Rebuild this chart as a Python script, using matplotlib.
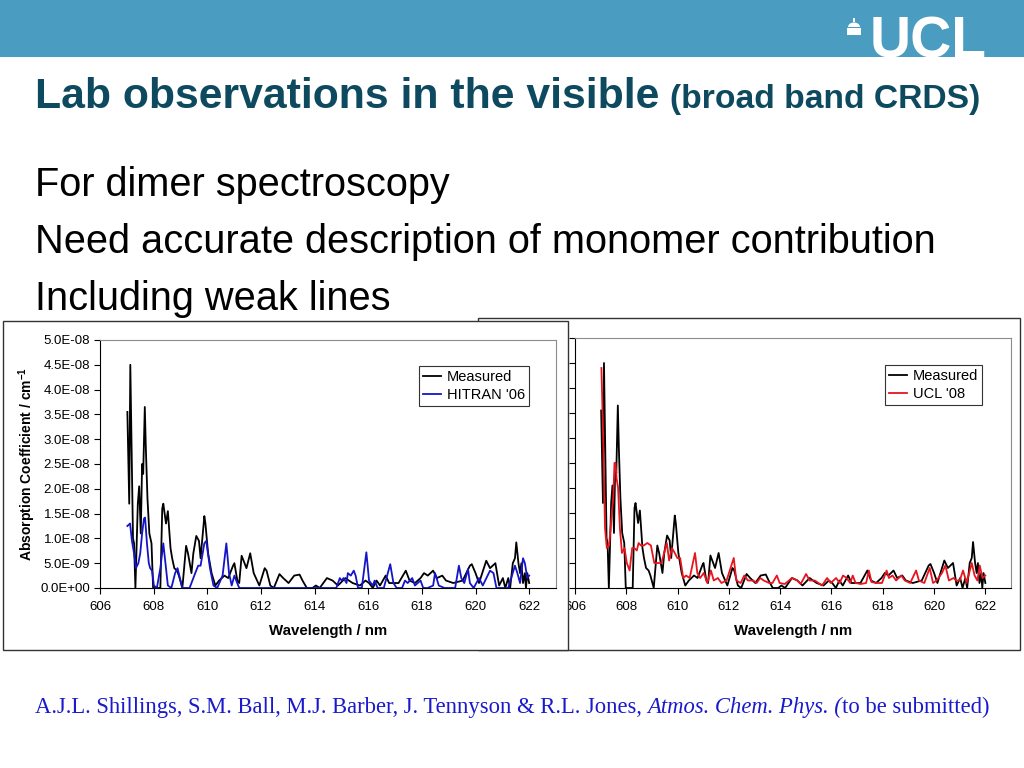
"""Slide: lab observations in the visible (broad band CRDS), two spectra panels."""

import matplotlib
matplotlib.use("Agg")
import matplotlib.pyplot as plt
from matplotlib.patches import Rectangle, Wedge
from matplotlib.ticker import FixedLocator, FuncFormatter

# ---------------------------------------------------------------------------
# Data (absorption coefficient in units of 1e-9 cm^-1)
# ---------------------------------------------------------------------------

measured_nm = [
    607.02, 607.09, 607.13, 607.23, 607.27, 607.32, 607.41, 607.46, 607.52, 607.57,
    607.61, 607.67, 607.71, 607.77, 607.84, 607.92, 607.98, 608.25, 608.32, 608.36,
    608.46, 608.53, 608.63, 608.69, 608.77, 608.87, 608.94, 609.07, 609.21, 609.28,
    609.41, 609.48, 609.59, 609.69, 609.75, 609.89, 609.93, 610.03, 610.16, 610.30,
    610.44, 610.64, 610.78, 610.96, 611.01, 611.12, 611.19, 611.28, 611.46, 611.60,
    611.73, 611.94, 612.14, 612.21, 612.35, 612.48, 612.69, 612.83, 613.03, 613.24,
    613.44, 613.55, 613.71, 613.92, 614.05, 614.19, 614.46, 614.67, 614.87, 615.15,
    615.28, 615.42, 615.69, 615.90, 616.03, 616.17, 616.31, 616.44, 616.65, 616.78,
    617.13, 617.40, 617.54, 617.74, 617.95, 618.08, 618.22, 618.42, 618.56, 618.76,
    618.90, 619.17, 619.52, 619.79, 619.86, 620.00, 620.13, 620.40, 620.54, 620.74,
    620.88, 621.02, 621.11, 621.22, 621.29, 621.39, 621.47, 621.52, 621.60, 621.66,
    621.71, 621.77, 621.84, 621.88, 621.93, 622.00,
]
measured_val = [
    35.5, 17.0, 45.0, 10.0, 9.0, 0.0, 17.0, 20.5, 11.0, 25.0,
    23.0, 36.5, 28.0, 18.0, 11.0, 9.0, 0.0, 0.0, 16.0, 17.0,
    13.0, 15.5, 8.0, 6.0, 4.0, 3.5, 2.5, 0.0, 8.5, 7.0,
    3.0, 7.0, 10.5, 9.5, 6.0, 14.5, 13.0, 7.0, 3.0, 0.5,
    1.5, 2.5, 2.0, 4.5, 5.0, 1.5, 1.0, 6.5, 4.0, 7.0,
    3.0, 0.5, 4.0, 3.5, 0.5, 0.0, 2.8, 2.0, 1.0, 2.5,
    2.7, 1.5, 0.0, 0.0, 0.5, 0.0, 2.0, 1.5, 0.5, 2.0,
    1.5, 1.0, 0.5, 1.5, 1.0, 0.0, 1.5, 0.5, 2.5, 1.0,
    1.0, 3.5, 1.5, 1.0, 2.0, 3.0, 2.5, 3.5, 2.0, 2.5,
    1.5, 1.0, 1.5, 4.5, 4.8, 3.0, 1.0, 5.5, 4.0, 5.0,
    0.5, 2.0, 0.0, 2.0, 0.0, 5.0, 6.0, 9.2, 5.0, 3.0,
    5.0, 1.0, 3.0, 0.0, 3.0, 1.0,
]

hitran_nm = [
    607.02, 607.12, 607.19, 607.27, 607.34, 607.43, 607.50, 607.57, 607.64, 607.68,
    607.75, 607.82, 607.87, 607.94, 608.01, 608.12, 608.25, 608.36, 608.46, 608.53,
    608.66, 608.80, 608.89, 608.98, 609.07, 609.34, 609.55, 609.66, 609.75, 609.89,
    609.96, 610.10, 610.23, 610.37, 610.57, 610.71, 610.81, 610.91, 611.01, 611.08,
    611.19, 614.81, 614.94, 615.01, 615.08, 615.19, 615.24, 615.35, 615.46, 615.53,
    615.62, 615.76, 615.93, 616.03, 616.17, 616.24, 616.35, 616.58, 616.82, 616.94,
    617.06, 617.26, 617.37, 617.47, 617.64, 617.74, 617.95, 618.05, 618.22, 618.42,
    618.49, 618.63, 618.84, 619.24, 619.38, 619.47, 619.58, 619.72, 619.79, 619.93,
    620.13, 620.27, 620.54, 620.67, 620.78, 621.22, 621.47, 621.56, 621.66, 621.77,
    621.84, 621.93, 622.00,
]
hitran_val = [
    12.5, 13.0, 9.5, 7.0, 4.0, 5.0, 7.0, 11.0, 14.0, 14.2,
    9.0, 5.0, 4.0, 3.5, 0.5, 0.0, 4.0, 9.0, 4.0, 0.5,
    0.0, 3.0, 4.0, 2.0, 0.0, 0.0, 3.0, 4.5, 4.5, 9.0,
    9.5, 4.0, 0.5, 0.0, 2.5, 9.0, 3.0, 0.5, 2.5, 1.5,
    0.0, 0.0, 2.0, 1.5, 2.0, 1.0, 3.0, 2.5, 3.5, 2.5,
    0.0, 0.0, 7.2, 1.5, 0.5, 1.5, 0.0, 0.0, 4.8, 1.0,
    0.0, 0.0, 1.5, 1.0, 2.0, 0.5, 1.5, 0.0, 0.0, 0.5,
    3.0, 0.5, 0.0, 0.0, 4.5, 2.0, 1.0, 3.8, 1.0, 0.0,
    2.0, 0.5, 3.5, 3.0, 0.0, 0.0, 4.5, 3.0, 1.0, 6.0,
    5.0, 2.0, 2.5,
]

ucl_nm = [
    607.03, 607.10, 607.17, 607.24, 607.33, 607.42, 607.49, 607.54, 607.58, 607.62,
    607.68, 607.75, 607.83, 607.93, 608.02, 608.13, 608.23, 608.31, 608.41, 608.48,
    608.57, 608.68, 608.82, 608.96, 609.09, 609.20, 609.37, 609.58, 609.67, 609.78,
    609.89, 609.99, 610.10, 610.22, 610.33, 610.47, 610.68, 610.77, 610.88, 611.02,
    611.16, 611.30, 611.41, 611.57, 611.71, 611.91, 612.19, 612.29, 612.46, 612.60,
    612.74, 612.95, 613.08, 613.22, 613.36, 613.57, 613.70, 613.87, 613.98, 614.18,
    614.46, 614.67, 614.80, 615.01, 615.15, 615.35, 615.49, 615.63, 615.83, 615.97,
    616.18, 616.32, 616.45, 616.59, 616.73, 616.83, 616.94, 617.14, 617.35, 617.46,
    617.56, 617.76, 617.97, 618.15, 618.24, 618.38, 618.52, 618.72, 618.86, 619.07,
    619.30, 619.41, 619.62, 619.83, 619.96, 620.10, 620.31, 620.44, 620.58, 620.76,
    620.86, 621.00, 621.13, 621.27, 621.47, 621.58, 621.69, 621.78, 621.89, 622.00,
]
ucl_val = [
    44.0, 30.0, 12.0, 8.0, 8.5, 14.0, 18.0, 25.0, 25.0, 22.0,
    20.0, 12.0, 7.0, 8.0, 5.0, 3.5, 8.0, 8.0, 7.5, 9.0,
    8.5, 8.5, 9.0, 8.5, 5.0, 5.0, 5.0, 9.0, 5.5, 8.0,
    7.0, 6.0, 6.0, 2.0, 2.5, 2.0, 7.0, 3.0, 2.0, 3.0,
    1.0, 3.5, 1.5, 2.0, 1.0, 1.5, 6.0, 1.5, 1.0, 2.5,
    1.5, 1.5, 1.0, 2.0, 1.5, 1.0, 1.0, 2.5, 1.0, 0.8,
    2.0, 1.5, 0.8, 2.8, 1.5, 1.5, 1.0, 0.5, 2.0, 1.0,
    2.0, 1.0, 2.5, 2.0, 1.0, 2.5, 1.0, 0.8, 1.0, 3.5,
    1.2, 1.0, 1.0, 3.5, 2.0, 2.5, 1.5, 2.5, 1.5, 1.0,
    3.5, 1.5, 1.0, 4.0, 1.0, 1.5, 3.0, 4.5, 1.5, 2.0,
    1.5, 1.5, 3.5, 1.0, 5.0, 2.5, 1.5, 4.5, 2.0, 2.5,
]

x_ticks = [606, 608, 610, 612, 614, 616, 618, 620, 622]
y_ticks = [0.0, 5e-9, 1e-8, 1.5e-8, 2e-8, 2.5e-8, 3e-8, 3.5e-8, 4e-8, 4.5e-8, 5e-8]

# ---------------------------------------------------------------------------
# Theme
# ---------------------------------------------------------------------------

_BAND = "#4a9cc0"
_TITLE = "#0e4a5f"
_CITE = "#1a1acc"
_BLUE = "#1414c8"
_RED = "#e8141e"
_SANS = ["Liberation Sans", "DejaVu Sans"]
_SERIF = ["Liberation Serif", "DejaVu Serif"]

plt.rcParams.update({
    "font.family": _SANS,
    "mathtext.fontset": "custom",
    "mathtext.rm": "Liberation Sans",
    "mathtext.bf": "Liberation Sans:bold",
    "axes.linewidth": 0.8,
})

W, H = 1024, 768


def fx(x):
    return x / W


def fy(y):
    return 1 - y / H


def rect(l, t, r, b):
    """Pixel box (from top-left) to figure-fraction [left, bottom, w, h]."""
    return [fx(l), fy(b), (r - l) / W, (b - t) / H]


fig = plt.figure(figsize=(W / 100, H / 100), dpi=100)

# header band + logo
fig.patches.append(Rectangle((0, fy(57)), 1, 57 / H, transform=fig.transFigure,
                             facecolor=_BAND, edgecolor="none", zorder=0))
fig.text(fx(870), fy(58), "UCL", color="white", fontsize=41, fontweight="bold",
         ha="left", va="baseline", family=["Liberation Sans"])
fig.patches.append(Wedge((fx(854), fy(27)), 6 / W, 0, 180, transform=fig.transFigure,
                         facecolor="white", edgecolor="none"))
fig.patches.append(Rectangle((fx(847), fy(35)), 14 / W, 7 / H, transform=fig.transFigure,
                             facecolor="white", edgecolor="none"))
fig.patches.append(Rectangle((fx(853.2), fy(22)), 1.6 / W, 4 / H, transform=fig.transFigure,
                             facecolor="white", edgecolor="none"))

# title and bullet lines
fig.text(fx(35), fy(108), "Lab observations in the visible", color=_TITLE,
         fontsize=30.8, fontweight="bold", va="baseline")
fig.text(fx(670), fy(108), "(broad band CRDS)", color=_TITLE,
         fontsize=24.2, fontweight="bold", va="baseline")
for yb, line in [(196, "For dimer spectroscopy"),
                 (253, "Need accurate description of monomer contribution"),
                 (310, "Including weak lines")]:
    fig.text(fx(35), fy(yb), line, fontsize=28.6, va="baseline", color="black")

# citation, pieced together so the journal name can be italic
renderer = fig.canvas.get_renderer()
x0 = fx(35)
for piece, style in [("A.J.L. Shillings, S.M. Ball, M.J. Barber, J. Tennyson & R.L. Jones, ", "normal"),
                     ("Atmos. Chem. Phys. (", "italic"),
                     ("to be submitted)", "normal")]:
    t = fig.text(x0, fy(713), piece, fontsize=16.3, color=_CITE, family=_SERIF,
                 style=style, va="baseline")
    bb = t.get_window_extent(renderer)
    x0 += bb.width / W


def style_axes(ax):
    ax.set_xlim(606, 623)
    ax.set_ylim(0, 5e-8)
    ax.xaxis.set_major_locator(FixedLocator(x_ticks))
    ax.yaxis.set_major_locator(FixedLocator(y_ticks))
    ax.yaxis.set_major_formatter(FuncFormatter(lambda v, _: f"{v:.1E}"))
    ax.tick_params(direction="out", length=4, width=0.8, labelsize=9.5, pad=3)
    ax.tick_params(axis="x", pad=5)
    for side in ("top", "right"):
        ax.spines[side].set_color("#8c8c8c")
    ax.set_xlabel("Wavelength / nm", fontsize=10.8, fontweight="bold", labelpad=8)
    ax.set_facecolor("white")


def add_legend(ax, anchor):
    leg = ax.legend(loc="upper left", bbox_to_anchor=anchor, bbox_transform=fig.transFigure,
                    fontsize=10.5, frameon=True, fancybox=False, framealpha=1,
                    edgecolor="#333333", borderpad=0.3, handlelength=1.2,
                    handletextpad=0.4, labelspacing=0.25, borderaxespad=0)
    leg.get_frame().set_linewidth(0.8)


# right panel (behind)
fig.patches.append(Rectangle((fx(478), fy(650)), (1020 - 478) / W, (650 - 318) / H,
                             transform=fig.transFigure, facecolor="white",
                             edgecolor="#333333", linewidth=1, zorder=1))
ax_r = fig.add_axes(rect(575, 338, 1011, 588))
ax_r.set_zorder(2)
measured_scaled = [v * 1e-9 for v in measured_val]
ax_r.plot(measured_nm, measured_scaled, color="black", lw=1.3, label="Measured")
ax_r.plot(ucl_nm, [v * 1e-9 for v in ucl_val], color=_RED, lw=1.3, label="UCL '08")
style_axes(ax_r)
add_legend(ax_r, (fx(885), fy(365)))

# left panel (in front)
fig.patches.append(Rectangle((fx(3), fy(650)), (568 - 3) / W, (650 - 321) / H,
                             transform=fig.transFigure, facecolor="white",
                             edgecolor="#333333", linewidth=1, zorder=3))
ax_l = fig.add_axes(rect(100, 340, 556, 588))
ax_l.set_zorder(4)
ax_l.plot(measured_nm, measured_scaled, color="black", lw=1.3, label="Measured")
ax_l.plot(hitran_nm, [v * 1e-9 for v in hitran_val], color=_BLUE, lw=1.3, label="HITRAN '06")
style_axes(ax_l)
ax_l.set_ylabel(r"Absorption Coefficient / cm$^{\mathbf{-1}}$", fontsize=10,
                fontweight="bold", labelpad=2)
add_legend(ax_l, (fx(419), fy(366)))

fig.savefig("out.png", dpi=100)
